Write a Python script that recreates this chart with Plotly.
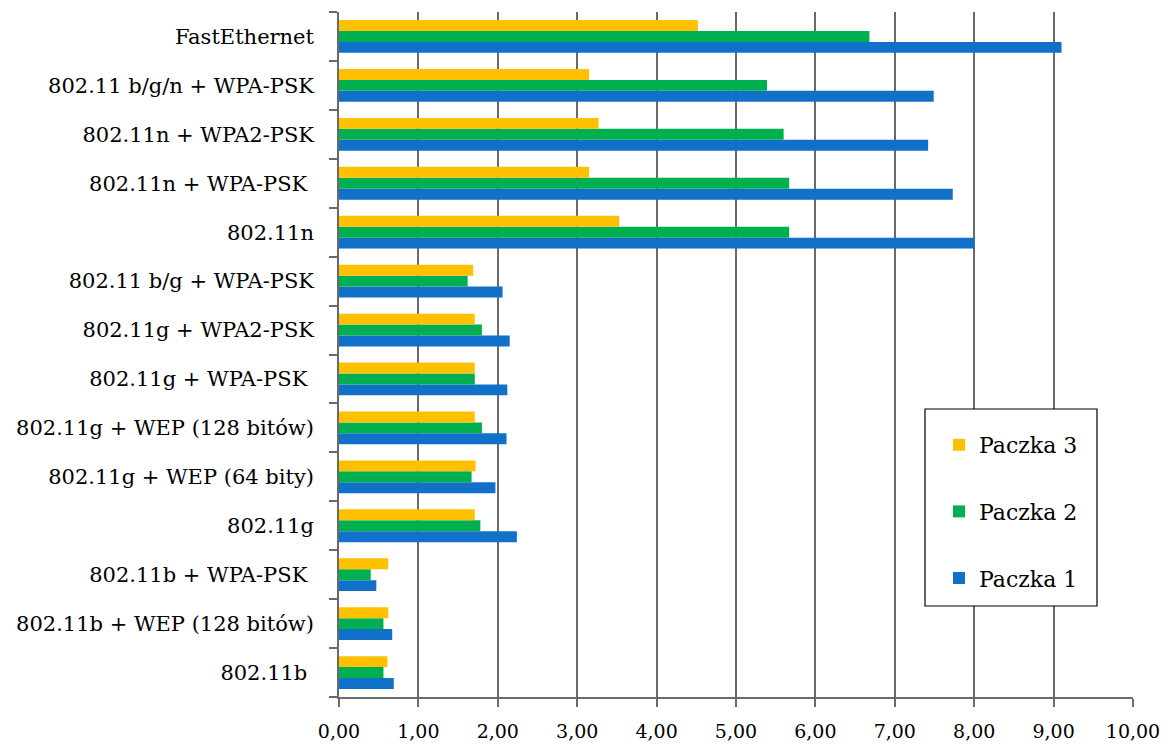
import plotly.graph_objects as go

# Connection types, listed top to bottom as they appear on the chart
categories = [
    "FastEthernet",
    "802.11 b/g/n + WPA-PSK",
    "802.11n + WPA2-PSK",
    "802.11n + WPA-PSK\u00a0",
    "802.11n",
    "802.11 b/g + WPA-PSK",
    "802.11g + WPA2-PSK",
    "802.11g + WPA-PSK\u00a0",
    "802.11g + WEP (128 bitów)",
    "802.11g + WEP (64 bity)",
    "802.11g",
    "802.11b + WPA-PSK\u00a0",
    "802.11b + WEP (128 bitów)",
    "802.11b\u00a0",
]

paczka_1 = [9.10, 7.49, 7.42, 7.73, 8.00, 2.06, 2.15, 2.12, 2.11, 1.97, 2.24, 0.47, 0.67, 0.69]
paczka_2 = [6.68, 5.39, 5.60, 5.67, 5.67, 1.62, 1.80, 1.71, 1.80, 1.67, 1.78, 0.40, 0.56, 0.56]
paczka_3 = [4.52, 3.15, 3.27, 3.15, 3.53, 1.69, 1.71, 1.71, 1.71, 1.72, 1.71, 0.62, 0.62, 0.61]

series = [
    ("Paczka 1", paczka_1, "#1170C7", 3),
    ("Paczka 2", paczka_2, "#00B050", 2),
    ("Paczka 3", paczka_3, "#FFC000", 1),
]

x_ticks = [0, 1, 2, 3, 4, 5, 6, 7, 8, 9, 10]

FONT = "DejaVu Serif"
W, H = 1165, 746
M_L, M_R, M_T, M_B = 339, 32, 12, 49

fig = go.Figure()
for name, vals, color, rank in series:
    fig.add_trace(go.Bar(
        x=vals, y=categories, name=name, orientation="h",
        marker=dict(color=color, line=dict(width=0)),
        legendgroup=name, legendrank=rank,
    ))

# Legend frame drawn as a shape so its size can be set exactly
pw = W - M_L - M_R
ph = H - M_T - M_B
def px_x(p):
    return (p - M_L) / pw
def px_y(p):
    return (H - M_B - p) / ph

fig.add_shape(type="rect", xref="paper", yref="paper",
              x0=px_x(925), x1=px_x(1097), y0=px_y(606), y1=px_y(409),
              line=dict(color="#000000", width=1.2), fillcolor="#FFFFFF", layer="above")

fig.update_layout(
    width=W, height=H,
    margin=dict(l=M_L, r=M_R, t=M_T, b=M_B),
    barmode="group", bargap=0.33, bargroupgap=0,
    plot_bgcolor="#FFFFFF", paper_bgcolor="#FFFFFF",
    separators=",.",
    font=dict(family=FONT, size=21, color="#000000"),
    showlegend=True,
    legend=dict(
        x=px_x(939), y=px_y(424), xanchor="left", yanchor="top",
        bgcolor="rgba(0,0,0,0)", borderwidth=0,
        traceorder="grouped", tracegroupgap=35,
        font=dict(family=FONT, size=22, color="#000000"),
    ),
    xaxis=dict(
        range=[0, 10], tickvals=x_ticks, tickformat=".2f", automargin=False,
        showgrid=True, gridcolor="#6A6A6A", gridwidth=1.6,
        showline=True, linecolor="#6A6A6A", linewidth=1.6,
        ticks="outside", ticklen=8, tickwidth=1.6, tickcolor="#6A6A6A",
        ticklabelstandoff=8, zeroline=False,
        tickfont=dict(family=FONT, size=19, color="#000000"),
    ),
    yaxis=dict(
        categoryorder="array", categoryarray=list(reversed(categories)),
        automargin=False,
        showline=True, linecolor="#6A6A6A", linewidth=1.6,
        ticks="outside", ticklen=8, tickwidth=1.6, tickcolor="#6A6A6A",
        tickson="boundaries", showgrid=False, ticklabelstandoff=19,
        tickfont=dict(family=FONT, size=21, color="#000000"),
    ),
)

fig.write_html("out.html")
